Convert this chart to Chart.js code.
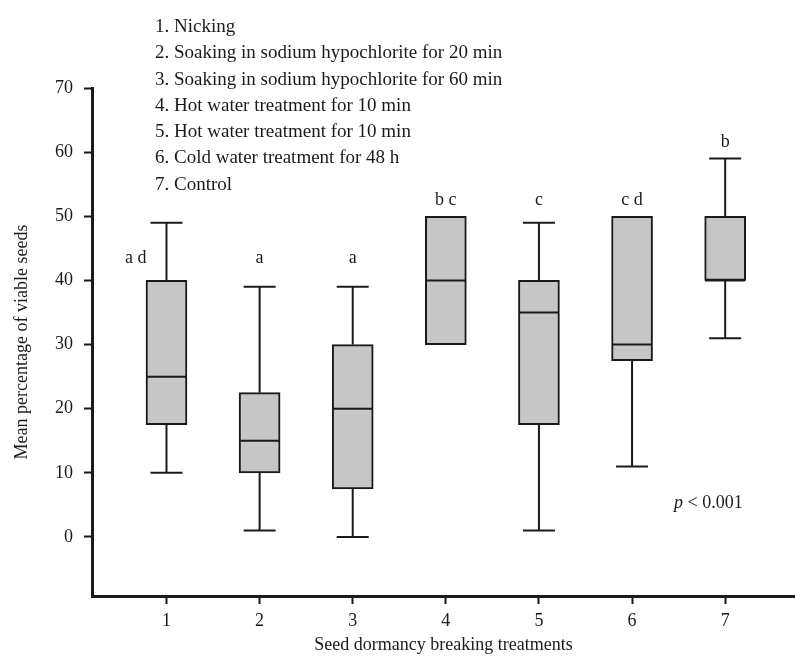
<!DOCTYPE html>
<html>
<head>
<meta charset="utf-8">
<script src="https://cdn.jsdelivr.net/npm/chart.js@4.4.1/dist/chart.umd.min.js"></script>
<style>
  body { margin: 0; background: #fff; }
</style>
</head>
<body>
<canvas id="boxes" width="795" height="657"></canvas>
<script>
// DATA
const treatments = [1, 2, 3, 4, 5, 6, 7];
const treatmentNames = [
  'Nicking',
  'Soaking in sodium hypochlorite for 20 min',
  'Soaking in sodium hypochlorite for 60 min',
  'Hot water treatment for 10 min',
  'Hot water treatment for 10 min',
  'Cold water treatment for 48 h',
  'Control'
];
const whiskerLow = [10, 1, 0, 30, 1, 11, 31];
const q1 = [17.5, 10, 7.5, 30, 17.5, 27.5, 40];
const median = [25, 15, 20, 40, 35, 30, 40];
const q3 = [40, 22.5, 30, 50, 40, 50, 50];
const whiskerHigh = [49, 39, 39, 50, 49, 50, 59];
// letters from the post hoc test and the value they sit at
const groups = ['a d', 'a', 'a', 'b c', 'c', 'c d', 'b'];
const groupAt = [43.5, 43.5, 43.5, 52.5, 52.5, 52.5, 61.5];
const yTicks = [0, 10, 20, 30, 40, 50, 60, 70];

const SERIF = '"Liberation Serif", "DejaVu Serif", serif';
const INK = '#1a1a1a';

// whiskers, caps, medians, letters and the text notes
const boxExtras = {
  id: 'boxExtras',
  afterDatasetsDraw(chart) {
    const {ctx, chartArea, scales: {x, y}} = chart;
    const cap = 16;
    ctx.save();
    ctx.strokeStyle = INK;
    ctx.lineWidth = 2;
    treatments.forEach((t, i) => {
      const px = x.getPixelForValue(t);
      const line = (x1, y1, x2, y2) => {
        ctx.beginPath();
        ctx.moveTo(x1, y1);
        ctx.lineTo(x2, y2);
        ctx.stroke();
      };
      if (whiskerHigh[i] > q3[i]) {
        line(px, y.getPixelForValue(q3[i]), px, y.getPixelForValue(whiskerHigh[i]));
        line(px - cap, y.getPixelForValue(whiskerHigh[i]), px + cap, y.getPixelForValue(whiskerHigh[i]));
      }
      if (whiskerLow[i] < q1[i]) {
        line(px, y.getPixelForValue(q1[i]), px, y.getPixelForValue(whiskerLow[i]));
        line(px - cap, y.getPixelForValue(whiskerLow[i]), px + cap, y.getPixelForValue(whiskerLow[i]));
      }
      line(px - 20, y.getPixelForValue(median[i]), px + 20, y.getPixelForValue(median[i]));

      ctx.fillStyle = INK;
      ctx.font = '18px ' + SERIF;
      ctx.textBaseline = 'middle';
      // letters that would sit on a whisker go to its left
      if (groupAt[i] < whiskerHigh[i] && groupAt[i] > q3[i]) {
        ctx.textAlign = 'right';
        ctx.fillText(groups[i], px - 20, y.getPixelForValue(groupAt[i]));
      } else {
        ctx.textAlign = 'center';
        ctx.fillText(groups[i], px, y.getPixelForValue(groupAt[i]));
      }
    });

    // list of treatments
    ctx.textAlign = 'left';
    ctx.textBaseline = 'middle';
    ctx.font = '19px ' + SERIF;
    treatmentNames.forEach((name, i) => {
      ctx.fillText((i + 1) + '. ' + name, chartArea.left + 63, 27 + i * 26.3);
    });

    // p value
    const pxv = chartArea.right - 121, pyv = chartArea.bottom - 93;
    ctx.font = 'italic 18px ' + SERIF;
    ctx.fillText('p', pxv, pyv);
    const w = ctx.measureText('p ').width;
    ctx.font = '18px ' + SERIF;
    ctx.fillText('< 0.001', pxv + w, pyv);
    ctx.restore();
  }
};

const ctx = document.getElementById('boxes');

new Chart(ctx, {
  type: 'bar',
  data: {
    datasets: [{
      data: treatments.map((t, i) => ({x: t, y: [q1[i], q3[i]]})),
      backgroundColor: '#c6c6c6',
      borderColor: INK,
      borderWidth: 2,
      borderSkipped: false,
      barThickness: 41
    }]
  },
  options: {
    responsive: false,
    animation: false,
    layout: {padding: {top: 88, right: 0, left: 0, bottom: 0}},
    plugins: {legend: {display: false}, tooltip: {enabled: false}},
    scales: {
      x: {
        type: 'linear',
        min: 0.2,
        max: 7.75,
        offset: false,
        afterBuildTicks: (scale) => { scale.ticks = treatments.map(v => ({value: v})); },
        afterFit: (scale) => { scale.height = 61; },
        grid: {drawOnChartArea: false, offset: false, tickLength: 8, tickColor: INK, tickWidth: 2},
        border: {display: true, color: INK, width: 3},
        ticks: {color: INK, font: {family: SERIF, size: 18}, padding: 6},
        title: {display: true, text: 'Seed dormancy breaking treatments', color: INK,
                font: {family: SERIF, size: 18}, padding: {top: 0, bottom: 1}}
      },
      y: {
        min: -9.2,
        max: 70,
        afterBuildTicks: (scale) => { scale.ticks = yTicks.map(v => ({value: v})); },
        afterFit: (scale) => { scale.width = 92; },
        grid: {drawOnChartArea: false, tickLength: 8, tickColor: INK, tickWidth: 2},
        border: {display: true, color: INK, width: 3},
        ticks: {color: INK, font: {family: SERIF, size: 18}, padding: 11},
        title: {display: true, text: 'Mean percentage of viable seeds', color: INK,
                font: {family: SERIF, size: 18}, padding: {top: 11, bottom: 0}}
      }
    }
  },
  plugins: [boxExtras]
});
</script>
</body>
</html>
